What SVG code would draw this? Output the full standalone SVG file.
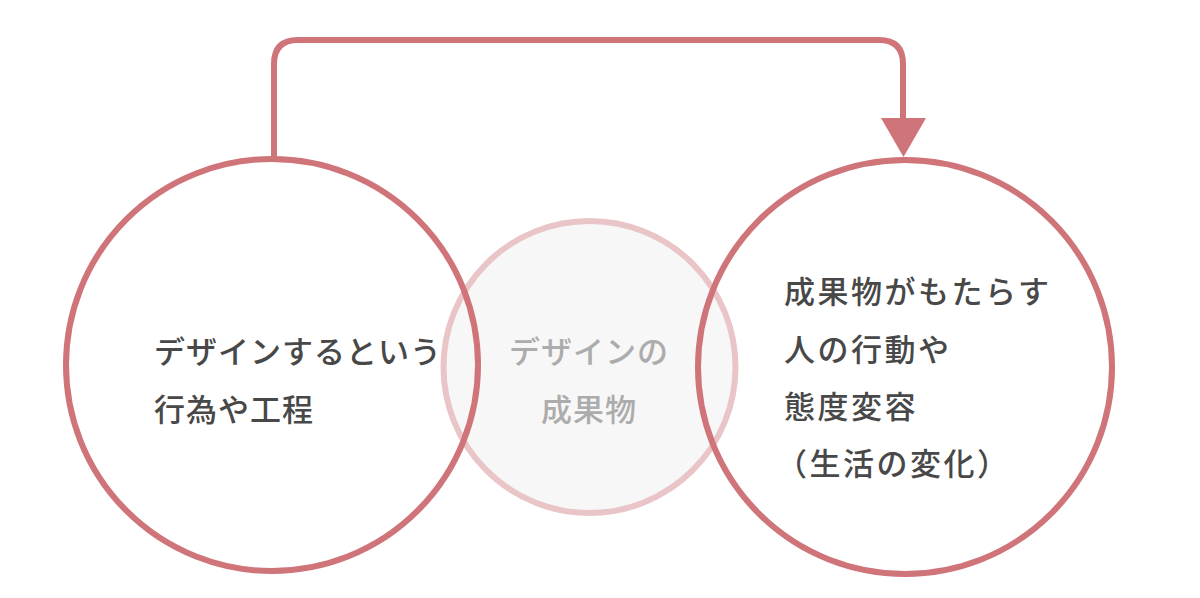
<svg xmlns="http://www.w3.org/2000/svg" width="1200" height="598" viewBox="0 0 1200 598">
<style>
.ring{fill:none;stroke:#cf7479;stroke-width:6}
.t{font-family:"Noto Sans CJK JP","Noto Sans CJK SC",sans-serif;font-size:31px;font-weight:500;letter-spacing:1px}
.wide{letter-spacing:2.5px}
.dark{fill:#484848}
.light{fill:#acacac}
</style>
<rect width="1200" height="598" fill="#ffffff"/>
<g id="connectors">
<path d="M274 158 V64 Q274 40 298 40 H879 Q903 40 903 64 V120" fill="none" stroke="#cf7479" stroke-width="6"/>
<polygon points="881,118 926,118 903.5,157" fill="#cf7479"/>
</g>
<g id="node-middle">
<circle cx="589.5" cy="367" r="146" fill="#f7f7f7" stroke="#e9c5c7" stroke-width="6"/>
<text class="t light" x="589" y="363" text-anchor="middle">デザインの</text>
<text class="t light" x="589" y="421" text-anchor="middle">成果物</text>
</g>
<g id="node-left">
<circle class="ring" cx="272" cy="365" r="206"/>
<text class="t dark" x="154" y="363">デザインするという</text>
<text class="t dark" x="154" y="421">行為や工程</text>
</g>
<g id="node-right">
<circle class="ring" cx="905" cy="367" r="207"/>
<text class="t wide dark" x="784" y="303">成果物がもたらす</text>
<text class="t wide dark" x="784" y="361">人の行動や</text>
<text class="t wide dark" x="784" y="418">態度変容</text>
<text class="t wide dark" x="776" y="475">（生活の変化）</text>
</g>
</svg>
